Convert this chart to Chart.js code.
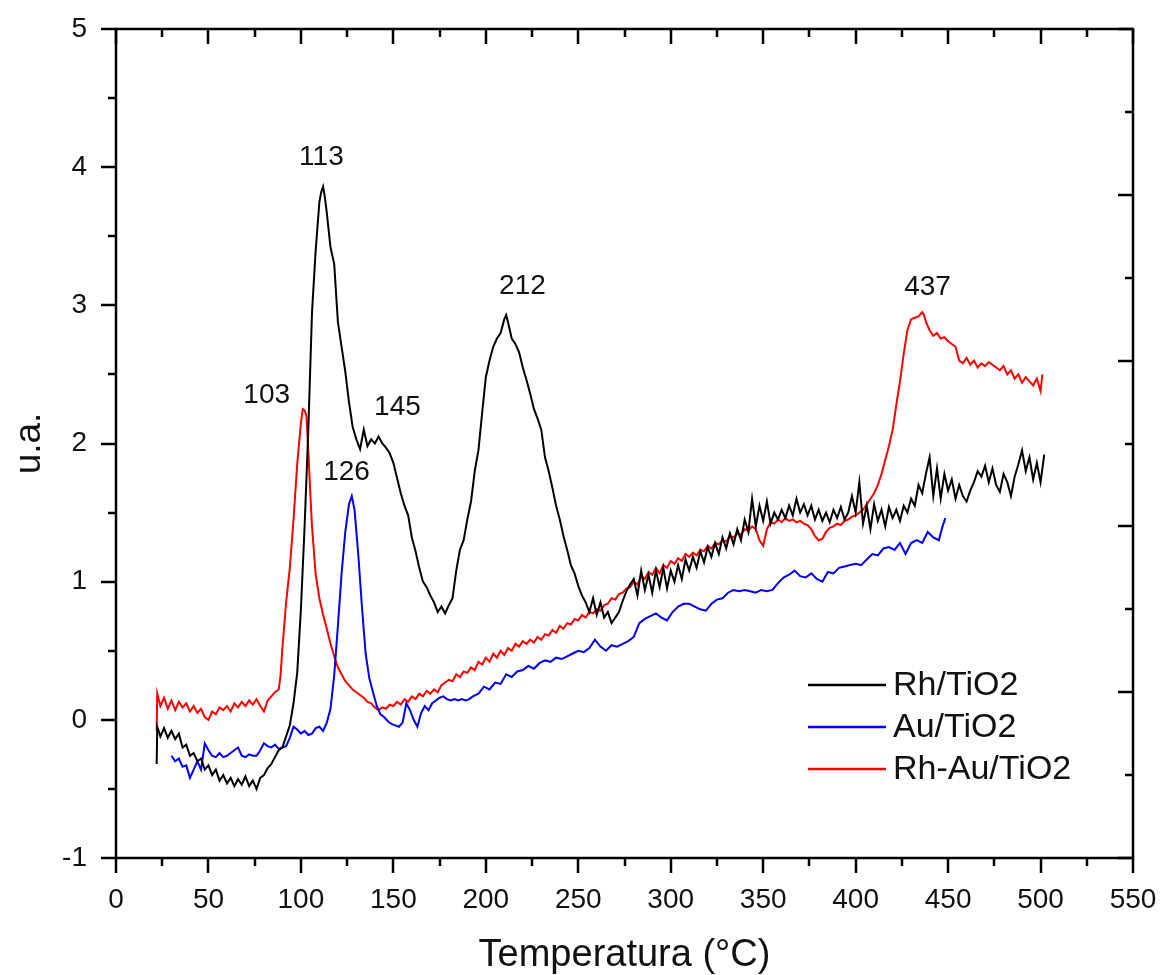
<!DOCTYPE html>
<html><head><meta charset="utf-8">
<script src="https://cdn.jsdelivr.net/npm/chart.js@4.4.1/dist/chart.umd.min.js"></script>
<style>html,body{margin:0;padding:0;background:#fff;}canvas{display:block;}</style>
</head><body>
<canvas id="c" width="1160" height="975"></canvas>
<script>
// ---------- DATA ----------
const seriesLabels = ['Rh/TiO2', 'Au/TiO2', 'Rh-Au/TiO2'];
const xTicks = [0, 50, 100, 150, 200, 250, 300, 350, 400, 450, 500, 550];
const yTicks = [-1, 0, 1, 2, 3, 4, 5];
const xTitle = 'Temperatura (°C)';
const yTitle = 'u.a.';

// Rh/TiO2 (black)
const rhX = [22,22.3,24,26,28,30,32,34,36,38,40,42,44,46,48,50,52,54,56,58,60,62,64,66,68,70,72,74,76,78,80,82,84,86,88,90,92,94,96,98,100,102,104,106,108,110,111,112,113,114,116,118,120,122,124,126,128,130,132,134,136,138,140,142,144,146,148,150,152,154,156,158,160,162,164,166,168,170,172,174,176,178,180,182,184,186,188,190,192,194,196,198,200,202,204,206,208,210,211,212,214,216,218,220,222,224,226,228,230,232,234,236,238,240,242,244,246,248,250,252,254,256,258,260,262,264,266,268,270,272,274,276,278,280,282,284,286,288,290,292,294,296,298,300,302,304,306,308,310,312,314,316,318,320,322,324,326,328,330,332,334,336,338,340,342,344,346,348,350,352,354,356,358,360,362,364,366,368,370,372,374,376,378,380,382,384,386,388,390,392,394,396,398,400,402,404,406,408,410,412,414,416,418,420,422,424,426,428,430,432,434,436,438,440,442,444,446,448,450,452,454,456,458,460,462,464,466,468,470,472,474,476,478,480,482,484,486,488,490,492,494,496,498,500,502];
const rhY = [-0.32,-0.05,-0.12,-0.06,-0.13,-0.08,-0.14,-0.10,-0.20,-0.18,-0.26,-0.24,-0.30,-0.28,-0.36,-0.33,-0.40,-0.36,-0.44,-0.40,-0.46,-0.42,-0.48,-0.43,-0.47,-0.41,-0.48,-0.44,-0.50,-0.42,-0.40,-0.35,-0.32,-0.27,-0.22,-0.20,-0.12,-0.04,0.12,0.34,0.80,1.40,2.10,2.95,3.40,3.75,3.82,3.86,3.78,3.67,3.42,3.30,2.88,2.70,2.52,2.30,2.12,2.03,1.96,2.10,1.98,2.03,2.00,2.05,2.00,1.97,1.93,1.86,1.75,1.64,1.55,1.48,1.32,1.22,1.10,1.00,0.96,0.90,0.85,0.78,0.82,0.77,0.83,0.88,1.08,1.23,1.30,1.45,1.58,1.80,1.95,2.22,2.48,2.60,2.70,2.76,2.80,2.90,2.93,2.88,2.76,2.72,2.66,2.55,2.46,2.36,2.25,2.18,2.10,1.90,1.80,1.68,1.55,1.45,1.33,1.23,1.12,1.06,0.97,0.90,0.85,0.78,0.88,0.76,0.85,0.74,0.78,0.70,0.74,0.78,0.86,0.93,0.98,1.02,0.90,1.08,0.94,1.05,0.92,1.08,0.96,1.10,0.95,1.08,1.00,1.12,1.02,1.16,1.08,1.18,1.10,1.22,1.14,1.25,1.18,1.28,1.20,1.32,1.24,1.35,1.27,1.38,1.30,1.45,1.36,1.60,1.40,1.55,1.44,1.58,1.42,1.50,1.45,1.52,1.46,1.55,1.48,1.60,1.50,1.56,1.48,1.55,1.45,1.52,1.44,1.50,1.43,1.52,1.46,1.54,1.45,1.50,1.62,1.50,1.72,1.42,1.55,1.38,1.56,1.44,1.52,1.40,1.54,1.46,1.52,1.44,1.55,1.50,1.60,1.55,1.70,1.64,1.78,1.90,1.62,1.82,1.60,1.78,1.66,1.74,1.60,1.70,1.62,1.58,1.66,1.72,1.80,1.76,1.84,1.72,1.82,1.70,1.65,1.78,1.72,1.62,1.76,1.85,1.95,1.80,1.90,1.74,1.86,1.72,1.92];

// Au/TiO2 (blue)
const auX = [30,32,34,36,38,40,42,44,46,48,50,52,54,56,58,60,62,64,66,68,70,72,74,76,78,80,82,84,86,88,90,92,94,96,98,100,102,104,106,108,110,112,114,116,118,120,122,124,126,127.5,129,131,133,135,137,139,141,143,145,147,149,151,153,155,157,159,161,163,165,167,169,171,173,175,177,179,181,183,185,187,189,191,193,196,199,202,205,208,211,214,217,220,223,226,229,232,235,238,241,244,247,250,253,256,259,262,265,268,271,274,277,280,283,286,289,292,295,298,301,304,307,310,313,316,319,322,325,328,331,334,337,340,343,346,349,352,355,358,361,364,367,370,373,376,379,382,385,388,391,394,397,400,403,406,409,412,415,418,421,424,427,430,433,436,439,442,445,447,448.5];
const auY = [-0.26,-0.30,-0.28,-0.34,-0.33,-0.42,-0.36,-0.30,-0.36,-0.17,-0.22,-0.26,-0.27,-0.24,-0.27,-0.26,-0.24,-0.22,-0.20,-0.26,-0.27,-0.25,-0.26,-0.26,-0.22,-0.17,-0.19,-0.20,-0.18,-0.21,-0.20,-0.19,-0.13,-0.05,-0.07,-0.10,-0.08,-0.11,-0.10,-0.06,-0.05,-0.08,-0.02,0.08,0.32,0.68,1.06,1.36,1.56,1.62,1.52,1.20,0.82,0.48,0.30,0.20,0.10,0.04,0.02,-0.01,-0.03,-0.04,-0.05,-0.02,0.12,0.07,0.00,-0.05,0.05,0.10,0.07,0.12,0.14,0.16,0.17,0.15,0.14,0.15,0.14,0.15,0.14,0.15,0.17,0.19,0.24,0.22,0.27,0.26,0.33,0.31,0.35,0.36,0.39,0.37,0.41,0.43,0.42,0.45,0.44,0.46,0.48,0.50,0.49,0.52,0.58,0.53,0.50,0.54,0.53,0.55,0.57,0.60,0.70,0.73,0.75,0.77,0.74,0.72,0.78,0.82,0.84,0.84,0.82,0.80,0.79,0.84,0.87,0.88,0.92,0.94,0.93,0.94,0.93,0.92,0.94,0.93,0.94,0.99,1.03,1.05,1.08,1.04,1.03,1.06,1.02,1.00,1.07,1.06,1.10,1.11,1.12,1.13,1.12,1.16,1.20,1.19,1.24,1.25,1.23,1.28,1.20,1.28,1.30,1.28,1.36,1.32,1.30,1.40,1.46];

// Rh-Au/TiO2 (red)
const rhauX = [22,22.3,24,26,28,30,32,34,36,38,40,42,44,46,48,50,52,54,56,58,60,62,64,66,68,70,72,74,76,78,80,82,84,86,88,89,90,92,94,96,98,100,101,102,103,104,105,106,108,110,112,114,116,118,120,122,124,126,128,130,132,134,136,138,140,142,144,146,148,150,152,154,156,158,160,162,164,166,168,170,172,174,176,178,180,182,184,186,188,190,192,194,196,198,200,202,204,206,208,210,212,214,216,218,220,222,224,226,228,230,232,234,236,238,240,242,244,246,248,250,252,254,256,258,260,262,264,266,268,270,272,274,276,278,280,282,284,286,288,290,292,294,296,298,300,302,304,306,308,310,312,314,316,318,320,322,324,326,328,330,332,334,336,338,340,342,344,346,348,350,352,354,356,358,360,362,364,366,368,370,372,374,376,378,380,382,384,386,388,390,392,394,396,398,400,402,404,406,408,410,412,414,416,418,420,422,424,426,428,430,432,434,436,437,438,440,442,444,446,448,450,452,454,456,458,460,462,464,466,468,470,472,474,476,478,480,482,484,486,488,490,492,494,496,498,500,501];
const rhauY = [-0.08,0.19,0.10,0.16,0.08,0.14,0.07,0.13,0.09,0.12,0.06,0.10,0.05,0.08,0.02,0.00,0.06,0.04,0.09,0.07,0.10,0.06,0.12,0.09,0.13,0.10,0.14,0.11,0.15,0.10,0.06,0.14,0.17,0.20,0.22,0.32,0.52,0.85,1.10,1.45,1.85,2.15,2.25,2.24,2.20,1.95,1.66,1.40,1.05,0.88,0.76,0.66,0.55,0.46,0.38,0.33,0.28,0.25,0.22,0.20,0.18,0.16,0.13,0.12,0.09,0.07,0.09,0.08,0.11,0.10,0.13,0.11,0.15,0.13,0.17,0.15,0.19,0.17,0.21,0.19,0.22,0.20,0.25,0.27,0.29,0.28,0.33,0.31,0.35,0.34,0.38,0.36,0.42,0.40,0.45,0.42,0.48,0.45,0.50,0.47,0.52,0.50,0.55,0.53,0.57,0.55,0.58,0.56,0.60,0.58,0.62,0.61,0.65,0.63,0.68,0.66,0.70,0.69,0.73,0.72,0.76,0.74,0.78,0.77,0.80,0.79,0.83,0.84,0.88,0.87,0.91,0.92,0.95,0.96,1.00,0.98,1.04,1.02,1.07,1.05,1.10,1.06,1.12,1.10,1.15,1.13,1.17,1.15,1.20,1.18,1.21,1.19,1.23,1.22,1.26,1.24,1.28,1.27,1.30,1.29,1.33,1.32,1.35,1.34,1.38,1.37,1.40,1.38,1.30,1.26,1.38,1.43,1.42,1.45,1.43,1.46,1.44,1.45,1.43,1.44,1.42,1.41,1.38,1.33,1.30,1.31,1.36,1.39,1.40,1.42,1.41,1.44,1.45,1.47,1.48,1.50,1.52,1.56,1.60,1.64,1.70,1.78,1.88,1.98,2.10,2.28,2.45,2.65,2.82,2.90,2.91,2.92,2.95,2.93,2.88,2.82,2.78,2.80,2.76,2.77,2.74,2.72,2.70,2.60,2.58,2.62,2.57,2.60,2.55,2.58,2.56,2.59,2.57,2.55,2.53,2.56,2.50,2.53,2.47,2.50,2.44,2.48,2.45,2.42,2.47,2.38,2.50];

// Peak annotations
const peakLabels = ['113', '212', '437', '103', '145', '126'];
const peakX = [111.1, 219.8, 438.9, 81.5, 152.2, 124.7];
const peakY = [4.07, 3.14, 3.13, 2.35, 2.26, 1.79];

// ---------- STYLE ----------
const FONT = '"Liberation Sans", Arial, sans-serif';
const colors = ['#000000', '#0000ff', '#ff0000'];

const toPts = (xs, ys) => xs.map((x, i) => ({ x: x, y: ys[i] }));

const framePlugin = {
  id: 'frame',
  afterDraw(chart) {
    const ctx = chart.ctx;
    const a = chart.chartArea;
    const xs = chart.scales.x, ys = chart.scales.y;
    ctx.save();
    ctx.strokeStyle = '#000';
    ctx.lineWidth = 2.5;
    ctx.lineCap = 'butt';
    ctx.strokeRect(a.left, a.top, a.right - a.left, a.bottom - a.top);
    const MAJ = 15, MIN = 8;
    ctx.beginPath();
    for (let v = xs.min; v <= xs.max + 1e-9; v += 25) {
      const px = Math.round(xs.getPixelForValue(v));
      const major = Math.abs(v % 50) < 1e-9;
      const L = major ? MAJ : MIN;
      ctx.moveTo(px, a.bottom); ctx.lineTo(px, a.bottom + L);
      ctx.moveTo(px, a.top); ctx.lineTo(px, a.top + L);
    }
    for (let v = ys.min; v <= ys.max + 1e-9; v += 0.5) {
      const py = Math.round(ys.getPixelForValue(v));
      const major = Math.abs(v - Math.round(v)) < 1e-9;
      const L = major ? MAJ : MIN;
      ctx.moveTo(a.left, py); ctx.lineTo(a.left - L, py);
    }
    for (let k = 0; k <= 10; k++) {
      const py = Math.round(a.top + (a.bottom - a.top) * k / 10);
      const L = (k % 2 === 0) ? MAJ : MIN;
      ctx.moveTo(a.right, py); ctx.lineTo(a.right - L, py);
    }
    ctx.stroke();

    ctx.fillStyle = '#111';
    ctx.font = '28px ' + FONT;
    ctx.textAlign = 'center';
    ctx.textBaseline = 'middle';
    peakLabels.forEach((t, i) => {
      ctx.fillText(t, xs.getPixelForValue(peakX[i]), ys.getPixelForValue(peakY[i]));
    });

    const lx0 = 808, lx1 = 886, tx = 893;
    const rowsY = [685, 727, 769];
    ctx.textAlign = 'left';
    ctx.font = '34px ' + FONT;
    chart.data.datasets.forEach((ds, i) => {
      ctx.strokeStyle = ds.borderColor;
      ctx.lineWidth = 2.5;
      ctx.beginPath();
      ctx.moveTo(lx0, rowsY[i]); ctx.lineTo(lx1, rowsY[i]);
      ctx.stroke();
      ctx.fillStyle = '#111';
      ctx.fillText(ds.label, tx, rowsY[i] + 1);
    });
    ctx.restore();
  }
};

const makeDs = (label, xs, ys, color) => ({
  label: label,
  data: toPts(xs, ys),
  borderColor: color,
  backgroundColor: color,
  borderWidth: 2,
  pointRadius: 0,
  tension: 0,
  fill: false
});

new Chart(document.getElementById('c'), {
  type: 'line',
  data: {
    datasets: [
      makeDs(seriesLabels[0], rhX, rhY, colors[0]),
      makeDs(seriesLabels[1], auX, auY, colors[1]),
      makeDs(seriesLabels[2], rhauX, rhauY, colors[2])
    ]
  },
  options: {
    responsive: false,
    animation: false,
    devicePixelRatio: 1,
    layout: { padding: { left: 0, right: 27, top: 29, bottom: 0 } },
    plugins: { legend: { display: false }, tooltip: { enabled: false } },
    scales: {
      x: {
        type: 'linear', min: 0, max: 550,
        afterBuildTicks: s => { s.ticks = xTicks.map(v => ({ value: v })); },
        afterFit: s => { s.height = 117; s.paddingLeft = 0; s.paddingRight = 0; },
        grid: { display: false, drawTicks: false },
        border: { display: false },
        ticks: { color: '#111', font: { family: FONT, size: 28 }, padding: 25, maxRotation: 0, autoSkip: false,
                 callback: v => String(v) },
        title: { display: true, text: xTitle, color: '#111', font: { family: FONT, size: 38, lineHeight: 1 }, padding: { top: 0, bottom: 0 } }
      },
      y: {
        type: 'linear', min: -1, max: 5,
        afterBuildTicks: s => { s.ticks = yTicks.map(v => ({ value: v })); },
        afterFit: s => { s.width = 116; s.paddingTop = 0; s.paddingBottom = 0; },
        grid: { display: false, drawTicks: false },
        border: { display: false },
        ticks: { color: '#111', font: { family: FONT, size: 28 }, padding: 29, autoSkip: false,
                 callback: v => String(v) },
        title: { display: true, text: yTitle, color: '#111', font: { family: FONT, size: 37 }, padding: { top: 8, bottom: 0 } }
      }
    }
  },
  plugins: [framePlugin]
});
</script>
</body></html>
